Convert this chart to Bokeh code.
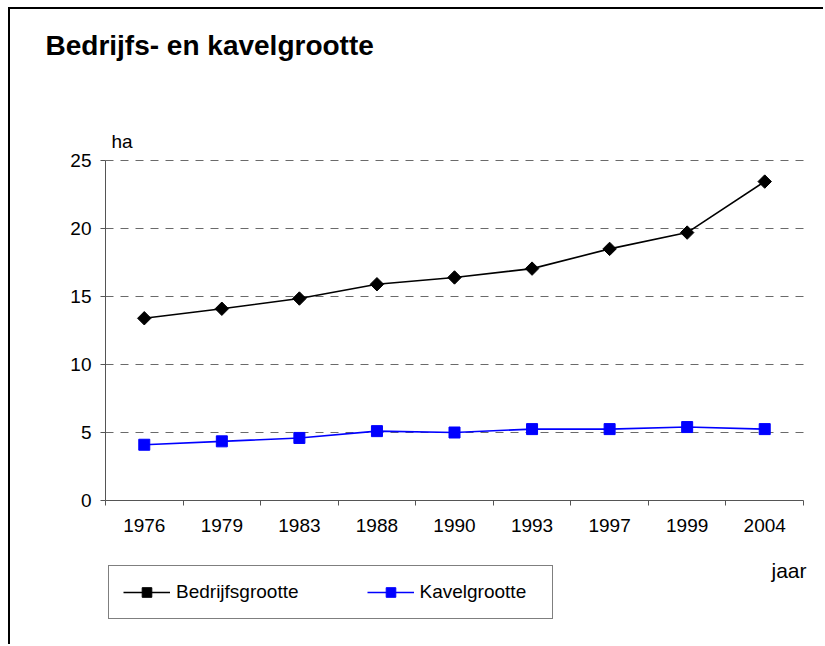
from bokeh.plotting import figure
from bokeh.models import Range1d, FixedTicker, Label, Legend, LegendItem
from bokeh.embed import file_html
from bokeh.resources import INLINE
import math

# ---- data ----
years = ["1976", "1979", "1983", "1988", "1990", "1993", "1997", "1999", "2004"]
bedrijfsgrootte = [13.4, 14.1, 14.85, 15.9, 16.4, 17.05, 18.5, 19.7, 23.45]
kavelgrootte = [4.1, 4.35, 4.6, 5.1, 5.0, 5.25, 5.25, 5.4, 5.25]
y_ticks = [0, 5, 10, 15, 20, 25]
grid_levels = [5, 10, 15, 20, 25]
y_max = 25

title_text = "Bedrijfs- en kavelgrootte"
y_unit = "ha"
x_unit = "jaar"

FONT = "Liberation Sans"

# page layout (pixels)
OX, OY = 10, 9            # canvas origin on the page
W, H = 815, 637           # canvas size
PL, PR = 105, 803         # plot area left/right on the page
PT, PB = 160, 500         # plot area top/bottom on the page

n = len(years)
xs = [i + 0.5 for i in range(n)]
sx = (PR - PL) / n        # px per category
sy = (PB - PT) / y_max    # px per unit


def dx(px):
    return (px - PL) / sx


def dy(py):
    return (PB - py) / sy


p = figure(width=W, height=H, output_backend="svg", toolbar_location=None,
           x_range=Range1d(dx(OX), dx(OX + W)),
           y_range=Range1d(dy(OY + H), dy(OY)),
           min_border=0)
p.styles = {"border-top": "2px solid black", "border-left": "2px solid black",
            "margin-left": "8px", "margin-top": "7px"}
p.outline_line_color = None
p.background_fill_color = "white"
p.border_fill_color = "white"
p.xgrid.visible = False
p.ygrid.visible = False

# dashed horizontal gridlines
for g in grid_levels:
    p.line([0, n], [g, g], line_color="#6a6a6a", line_width=1, line_dash="8 7")

# x axis
xa = p.xaxis[0]
xa.fixed_location = 0
xa.bounds = (0, n)
xa.ticker = FixedTicker(ticks=xs, minor_ticks=list(range(n + 1)))
xa.major_label_overrides = {x: y for x, y in zip(xs, years)}
xa.major_tick_line_color = None
xa.minor_tick_in = 0
xa.minor_tick_out = 5
xa.minor_tick_line_color = "#555555"
xa.axis_line_color = "#555555"
xa.major_label_text_font = FONT
xa.major_label_text_font_size = "19px"
xa.major_label_text_color = "black"
xa.major_label_standoff = 12

# y axis
ya = p.yaxis[0]
ya.fixed_location = 0
ya.bounds = (0, y_max)
ya.ticker = FixedTicker(ticks=y_ticks, minor_ticks=[])
ya.major_tick_in = 0
ya.major_tick_out = 5
ya.major_tick_line_color = "#555555"
ya.axis_line_color = "#555555"
ya.minor_tick_line_color = None
ya.major_label_text_font = FONT
ya.major_label_text_font_size = "19px"
ya.major_label_text_color = "black"
ya.major_label_standoff = 9

# series
l1 = p.line(xs, bedrijfsgrootte, line_color="black", line_width=1.6)
m1 = p.scatter(xs, bedrijfsgrootte, marker="square", size=9.5, angle=math.pi / 4,
               fill_color="black", line_color="black")
l2 = p.line(xs, kavelgrootte, line_color="#0000FF", line_width=1.6)
m2 = p.scatter(xs, kavelgrootte, marker="square", size=11,
               fill_color="#0000FF", line_color="#0000FF")

p.add_layout(Label(x=dx(45), y=dy(45), text=title_text, text_font=FONT,
                   text_font_size="28px", text_font_style="bold",
                   text_color="black", text_baseline="alphabetic"))
p.add_layout(Label(x=dx(111), y=dy(141), text=y_unit, text_font=FONT,
                   text_font_size="19px", text_color="black",
                   text_baseline="alphabetic"))
p.add_layout(Label(x=dx(771), y=dy(570), text=x_unit, text_font=FONT,
                   text_font_size="21px", text_color="black",
                   text_baseline="alphabetic"))

legend = Legend(items=[LegendItem(label="Bedrijfsgrootte", renderers=[l1, m1]),
                       LegendItem(label="Kavelgrootte", renderers=[l2, m2])],
                orientation="horizontal",
                location=(108 - OX, OY + H - 619),
                glyph_width=47, glyph_height=24, padding=14, spacing=68,
                label_standoff=6, label_text_font=FONT,
                label_text_font_size="19px", label_text_color="black",
                label_height=20, label_width=118,
                border_line_color="black", border_line_width=1,
                background_fill_color="white", background_fill_alpha=1,
                margin=0)
p.add_layout(legend, "center")

open("out.html", "w").write(file_html(p, INLINE))
